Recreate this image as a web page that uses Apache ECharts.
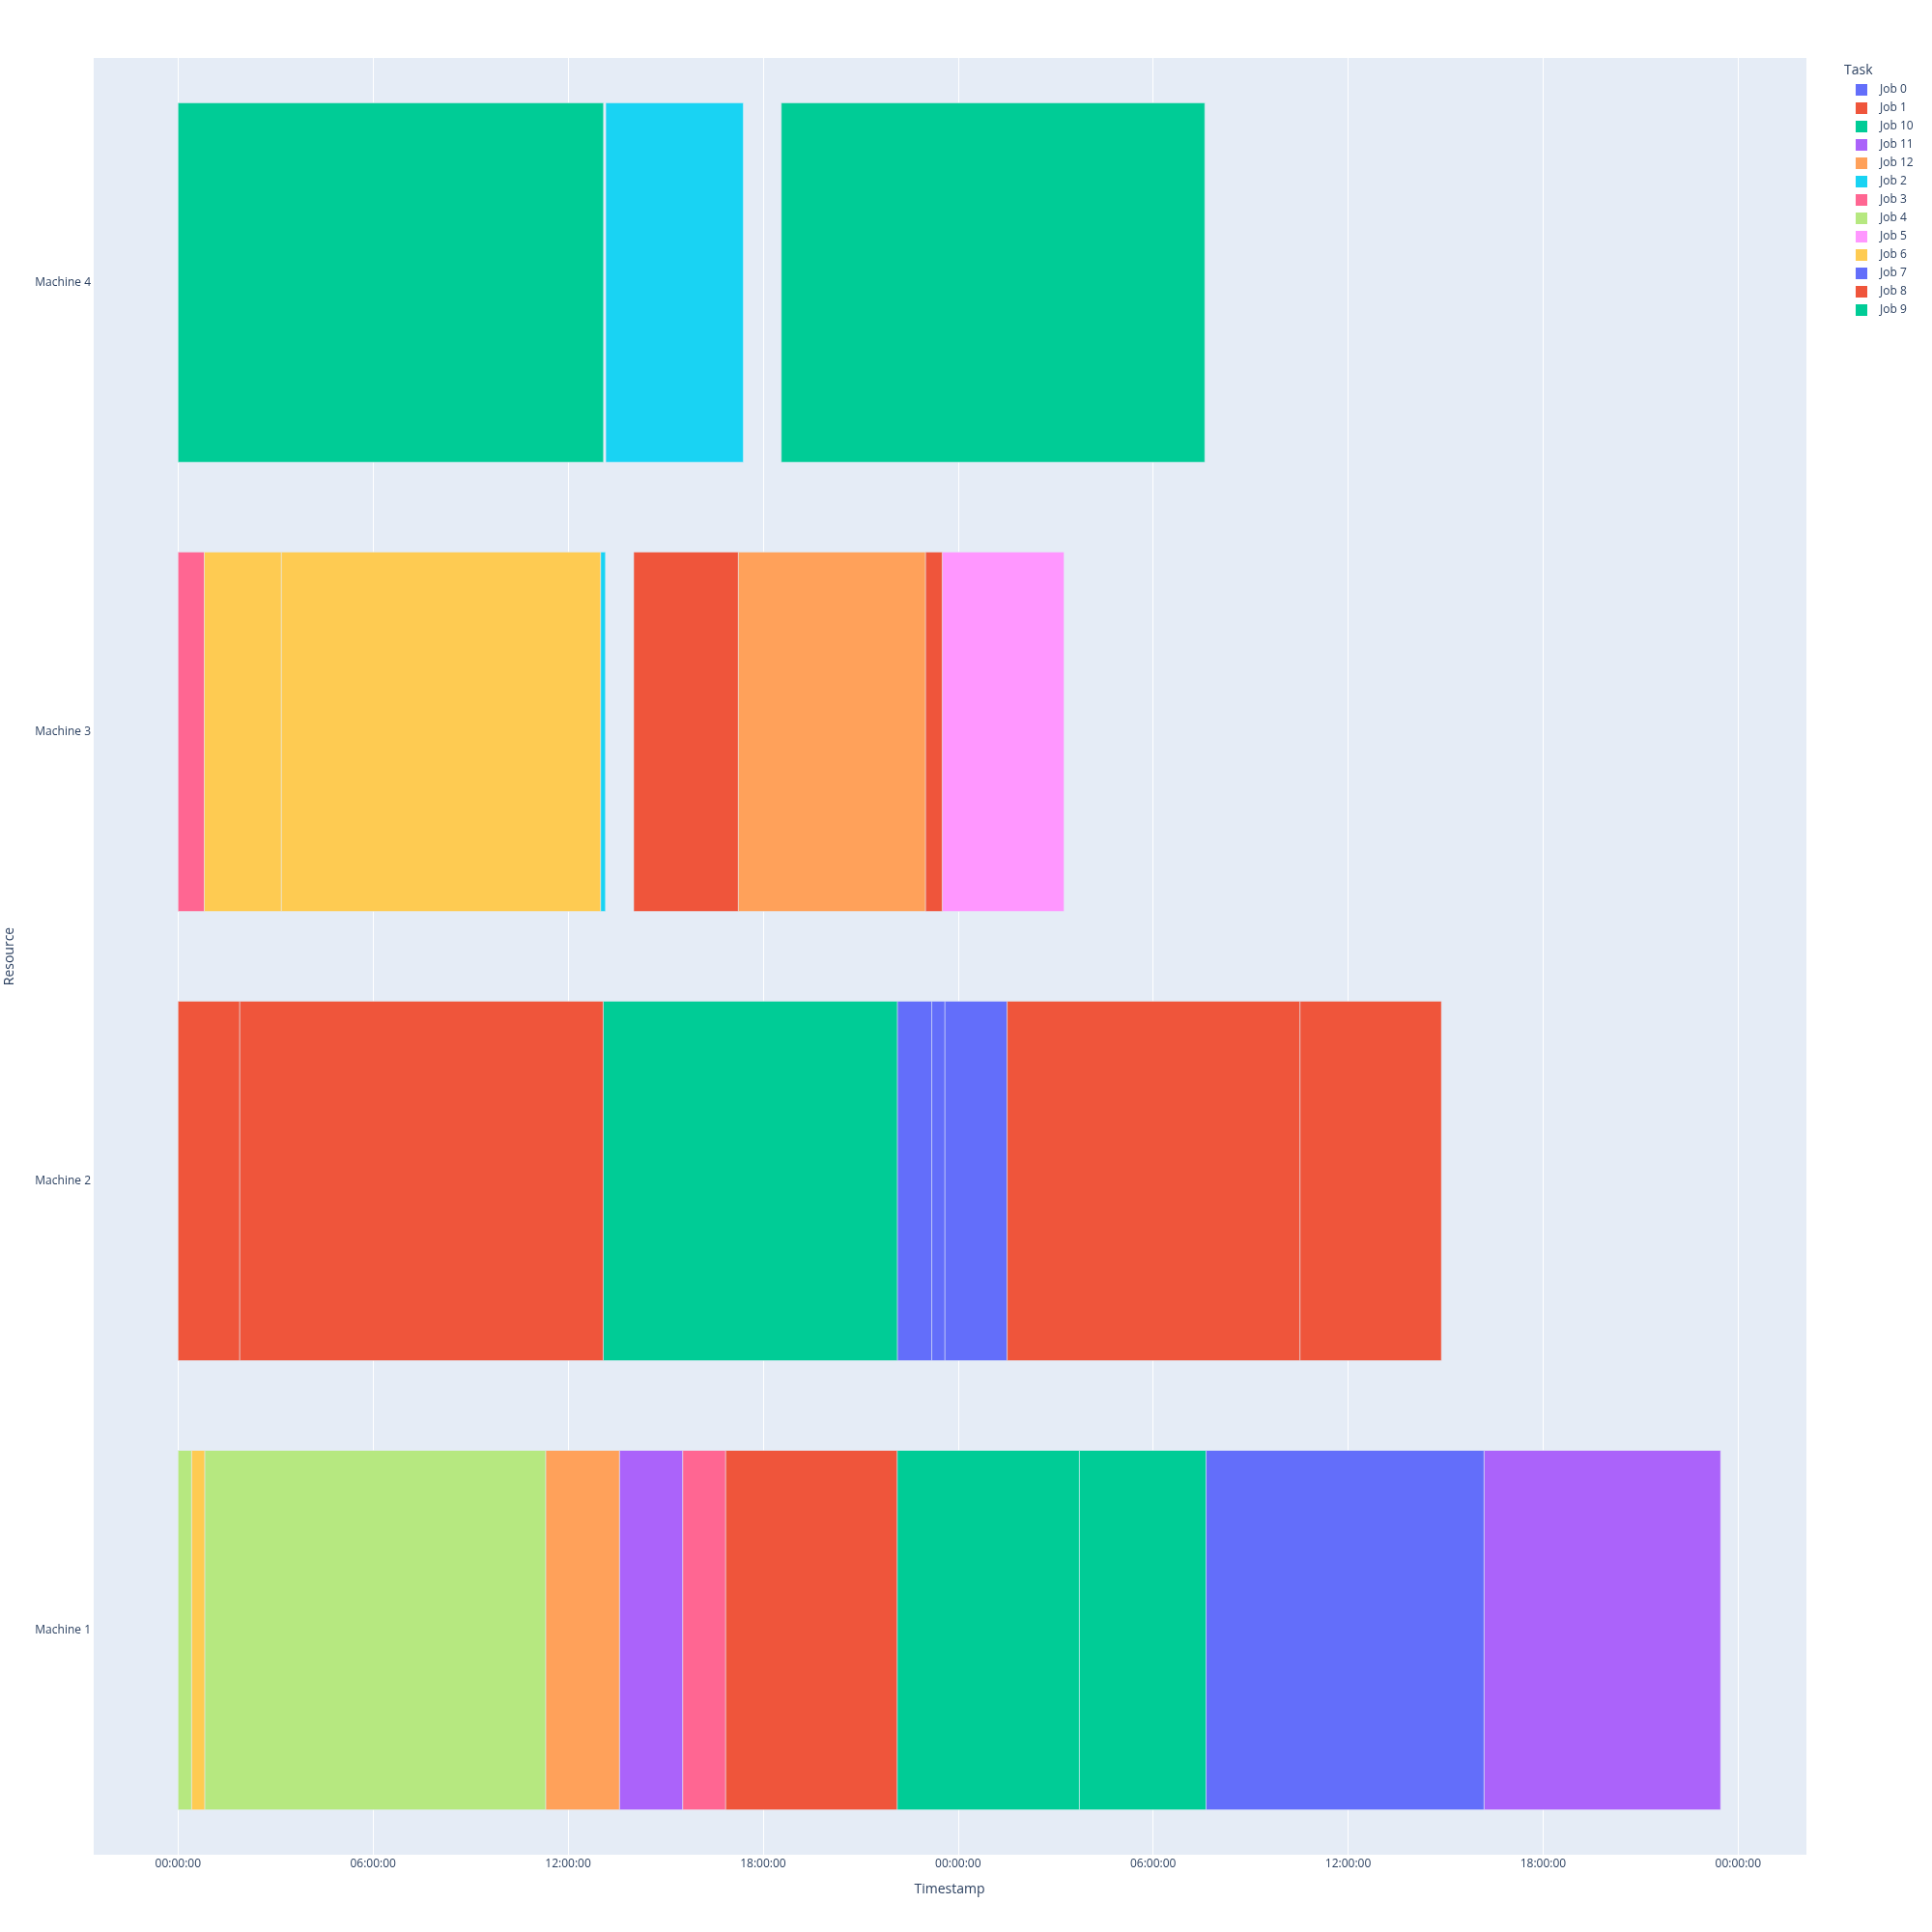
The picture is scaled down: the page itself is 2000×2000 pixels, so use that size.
<!DOCTYPE html>
<html>
<head>
<meta charset="utf-8">
<script src="https://cdn.jsdelivr.net/npm/echarts@6/dist/echarts.min.js"></script>
<style>html,body{margin:0;padding:0;background:#fff;}#chart{width:2000px;height:2000px;}</style>
</head>
<body>
<div id="chart"></div>
<script>
// ---- data ----
const machines = ['Machine 1', 'Machine 2', 'Machine 3', 'Machine 4'];
const jobs = ['Job 0', 'Job 1', 'Job 10', 'Job 11', 'Job 12', 'Job 2', 'Job 3', 'Job 4', 'Job 5', 'Job 6', 'Job 7', 'Job 8', 'Job 9'];
const jobColors = ['#636efa', '#EF553B', '#00cc96', '#ab63fa', '#FFA15A', '#19d3f3', '#FF6692', '#B6E880', '#FF97FF', '#FECB52', '#636efa', '#EF553B', '#00cc96'];
// tasks (start / end in hours from 00:00:00)
const taskMachine = [
  'Machine 1','Machine 1','Machine 1','Machine 1','Machine 1','Machine 1','Machine 1','Machine 1','Machine 1','Machine 1','Machine 1',
  'Machine 2','Machine 2','Machine 2','Machine 2','Machine 2','Machine 2','Machine 2','Machine 2',
  'Machine 3','Machine 3','Machine 3','Machine 3','Machine 3','Machine 3','Machine 3','Machine 3',
  'Machine 4','Machine 4','Machine 4'
];
const taskJob = [
  'Job 4','Job 6','Job 4','Job 12','Job 11','Job 3','Job 8','Job 9','Job 10','Job 7','Job 11',
  'Job 1','Job 8','Job 10','Job 0','Job 7','Job 0','Job 1','Job 8',
  'Job 3','Job 6','Job 6','Job 2','Job 1','Job 12','Job 8','Job 5',
  'Job 9','Job 2','Job 10'
];
const taskStart = [
  0, 0.42, 0.82, 11.31, 13.58, 15.53, 16.85, 22.13, 27.73, 31.63, 40.18,
  0, 1.90, 13.08, 22.13, 23.19, 23.59, 25.51, 34.52,
  0, 0.81, 3.18, 13.00, 14.02, 17.24, 23.00, 23.51,
  0, 13.16, 18.56
];
const taskEnd = [
  0.42, 0.82, 11.31, 13.58, 15.53, 16.85, 22.13, 27.73, 31.63, 40.18, 47.46,
  1.90, 13.08, 22.13, 23.19, 23.59, 25.51, 34.52, 38.87,
  0.81, 3.18, 13.00, 13.15, 17.24, 23.00, 23.51, 27.26,
  13.09, 17.39, 31.59
];
const axisMinHours = -2.624;
const axisMaxHours = 50.10;

// ---- build ----
const HOUR = 3600 * 1000;
const base = new Date(2024, 0, 1, 0, 0, 0).getTime();
const FONT = '"Open Sans", "Noto Sans", sans-serif';
const TXT = '#2a3f5f';

function renderBar(params, api) {
  const y = api.value(0);
  const p0 = api.coord([api.value(1), y]);
  const p1 = api.coord([api.value(2), y]);
  const h = api.size([0, 1])[1] * 0.8;
  return {
    type: 'rect',
    shape: { x: p0[0], y: p0[1] - h / 2, width: p1[0] - p0[0], height: h },
    style: { fill: api.visual('color'), stroke: '#E5ECF6', lineWidth: 0.5 }
  };
}

const series = jobs.map((job, j) => {
  const data = [];
  for (let i = 0; i < taskJob.length; i++) {
    if (taskJob[i] === job) {
      data.push([machines.indexOf(taskMachine[i]), base + taskStart[i] * HOUR, base + taskEnd[i] * HOUR]);
    }
  }
  return {
    name: job,
    type: 'custom',
    renderItem: renderBar,
    itemStyle: { color: jobColors[j] },
    encode: { y: 0, x: [1, 2] },
    data: data,
    z: 10
  };
});

const chart = echarts.init(document.getElementById('chart'), null, { renderer: 'canvas' });
chart.setOption({
  animation: false,
  backgroundColor: '#ffffff',
  textStyle: { fontFamily: FONT },
  title: {
    text: 'Task',
    left: 1909,
    top: 66,
    padding: 0,
    textStyle: { fontFamily: FONT, fontSize: 14, fontWeight: 'normal', color: TXT }
  },
  legend: {
    orient: 'vertical',
    left: 1921,
    top: 87,
    padding: 0,
    itemWidth: 12,
    itemHeight: 12,
    itemGap: 7,
    icon: 'rect',
    data: jobs,
    textStyle: { fontFamily: FONT, fontSize: 12, color: TXT, padding: [0, 0, 0, 8] }
  },
  grid: {
    left: 96, right: 130, top: 60, bottom: 80,
    containLabel: false,
    outerBoundsMode: 'none',
    show: true, backgroundColor: '#E5ECF6', borderWidth: 0
  },
  xAxis: {
    type: 'time',
    min: base + axisMinHours * HOUR,
    max: base + axisMaxHours * HOUR,
    minInterval: 7 * HOUR,
    maxInterval: 7 * HOUR,
    name: 'Timestamp',
    nameLocation: 'middle',
    nameGap: 29,
    nameTextStyle: { fontFamily: FONT, fontSize: 14, color: TXT },
    axisLine: { show: false },
    axisTick: { show: false },
    axisLabel: {
      formatter: '{HH}:{mm}:{ss}',
      fontFamily: FONT, fontSize: 12, color: TXT, margin: 4,
      showMinLabel: false, showMaxLabel: false, hideOverlap: false
    },
    splitLine: { show: true, lineStyle: { color: '#ffffff', width: 1 } }
  },
  yAxis: {
    type: 'category',
    data: machines,
    name: 'Resource',
    nameLocation: 'middle',
    nameGap: 79,
    nameTextStyle: { fontFamily: FONT, fontSize: 14, color: TXT },
    axisLine: { show: false },
    axisTick: { show: false },
    axisLabel: { fontFamily: FONT, fontSize: 12, color: TXT, margin: 2 },
    splitLine: { show: false }
  },
  series: series
});
</script>
</body>
</html>
